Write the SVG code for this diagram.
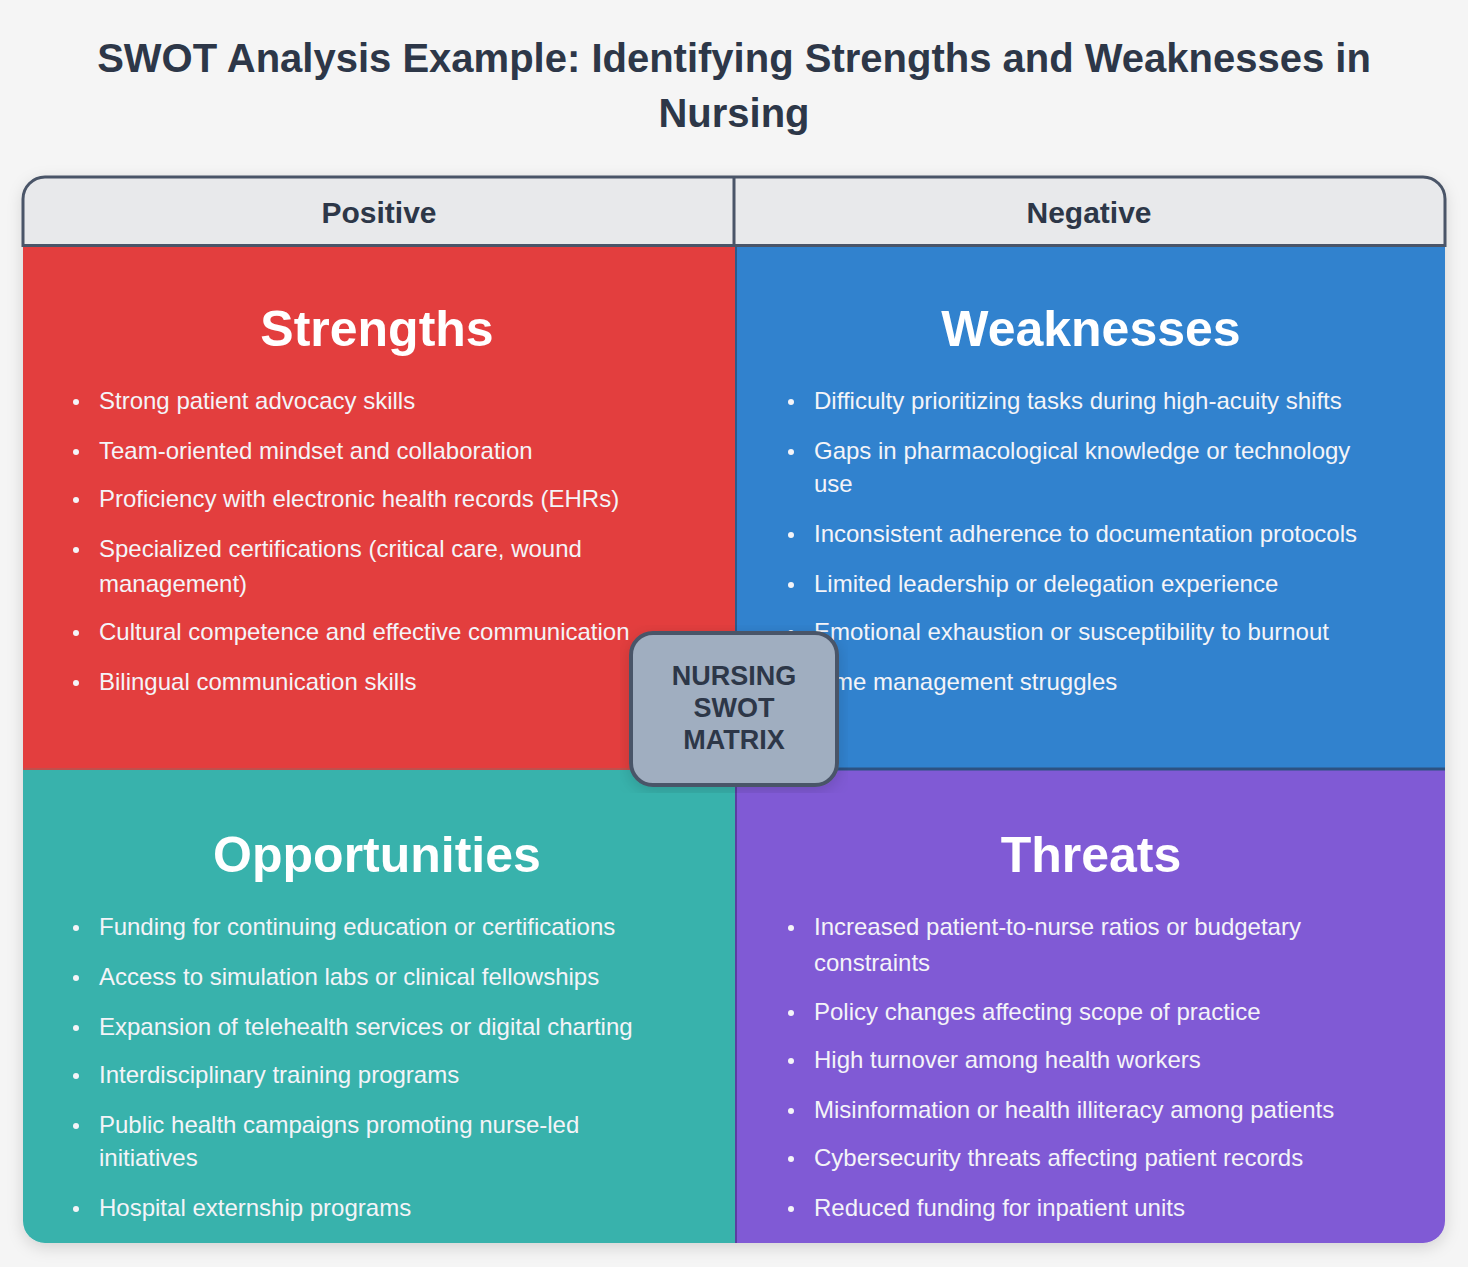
<svg xmlns="http://www.w3.org/2000/svg" width="1468" height="1267" viewBox="0 0 1468 1267">
<style>
text{font-family:"Liberation Sans",Arial,sans-serif}
.title{font-size:40px;font-weight:bold;fill:#2d3748;text-anchor:middle}
.hdr{font-size:30px;font-weight:bold;fill:#2d3748;text-anchor:middle}
.qt{font-size:50px;font-weight:bold;fill:#fff;text-anchor:middle}
.it{font-size:24px;fill:#f4f4f8}
.dot{fill:#f4f4f8}
.ctr{font-size:27px;font-weight:bold;fill:#2d3748;text-anchor:middle}
</style>
<defs>
<clipPath id="cl"><rect x="23" y="177" width="1422" height="1066" rx="22"/></clipPath>
<filter id="sh" x="-5%" y="-5%" width="110%" height="110%"><feDropShadow dx="0" dy="4" stdDeviation="8" flood-color="#000" flood-opacity="0.15"/></filter>
</defs>
<rect width="1468" height="1267" fill="#f5f5f5"/>
<text class="title" x="734" y="72">SWOT Analysis Example: Identifying Strengths and Weaknesses in</text>
<text class="title" x="734" y="127">Nursing</text>
<rect x="23" y="177" width="1422" height="1066" rx="22" fill="#e8e9eb" filter="url(#sh)"/>
<g clip-path="url(#cl)">
<g id="header">
<rect x="23" y="177" width="1422" height="70" fill="#e8e9eb"/>
<line x1="734" y1="177" x2="734" y2="247" stroke="#4a5568" stroke-width="3"/>
<line x1="23" y1="245.5" x2="1445" y2="245.5" stroke="#4a5568" stroke-width="3"/>
<text class="hdr" x="379" y="223">Positive</text>
<text class="hdr" x="1089" y="223">Negative</text>
</g>
<g id="strengths">
<rect x="23" y="247" width="712" height="523" fill="#e33e3e"/>
<text class="qt" x="377" y="346">Strengths</text>
<g class="it">
<circle class="dot" cx="76" cy="402" r="3"/><text class="it" x="99" y="409">Strong patient advocacy skills</text>
<circle class="dot" cx="76" cy="452" r="3"/><text class="it" x="99" y="459">Team-oriented mindset and collaboration</text>
<circle class="dot" cx="76" cy="500" r="3"/><text class="it" x="99" y="507">Proficiency with electronic health records (EHRs)</text>
<circle class="dot" cx="76" cy="550" r="3"/><text class="it" x="99" y="557">Specialized certifications (critical care, wound</text>
<text class="it" x="99" y="592">management)</text>
<circle class="dot" cx="76" cy="633" r="3"/><text class="it" x="99" y="640">Cultural competence and effective communication</text>
<circle class="dot" cx="76" cy="683" r="3"/><text class="it" x="99" y="690">Bilingual communication skills</text>
</g>
</g>
<g id="weaknesses">
<rect x="735" y="247" width="710" height="523" fill="#3182ce"/>
<line x1="736" y1="247" x2="736" y2="770" stroke="#2c5a8a" stroke-width="2"/>
<text class="qt" x="1091" y="346">Weaknesses</text>
<circle class="dot" cx="791" cy="402" r="3"/><text class="it" x="814" y="409">Difficulty prioritizing tasks during high-acuity shifts</text>
<circle class="dot" cx="791" cy="452" r="3"/><text class="it" x="814" y="459">Gaps in pharmacological knowledge or technology</text>
<text class="it" x="814" y="492">use</text>
<circle class="dot" cx="791" cy="535" r="3"/><text class="it" x="814" y="542">Inconsistent adherence to documentation protocols</text>
<circle class="dot" cx="791" cy="585" r="3"/><text class="it" x="814" y="592">Limited leadership or delegation experience</text>
<circle class="dot" cx="791" cy="633" r="3"/><text class="it" x="814" y="640">Emotional exhaustion or susceptibility to burnout</text>
<circle class="dot" cx="791" cy="683" r="3"/><text class="it" x="814" y="690">Time management struggles</text>
</g>
<g id="opportunities">
<rect x="23" y="770" width="712" height="473" fill="#38b2ac"/>
<line x1="23" y1="769" x2="735" y2="769" stroke="#c0504d" stroke-width="2"/>
<text class="qt" x="377" y="872">Opportunities</text>
<circle class="dot" cx="76" cy="928" r="3"/><text class="it" x="99" y="935">Funding for continuing education or certifications</text>
<circle class="dot" cx="76" cy="978" r="3"/><text class="it" x="99" y="985">Access to simulation labs or clinical fellowships</text>
<circle class="dot" cx="76" cy="1028" r="3"/><text class="it" x="99" y="1035">Expansion of telehealth services or digital charting</text>
<circle class="dot" cx="76" cy="1076" r="3"/><text class="it" x="99" y="1083">Interdisciplinary training programs</text>
<circle class="dot" cx="76" cy="1126" r="3"/><text class="it" x="99" y="1133">Public health campaigns promoting nurse-led</text>
<text class="it" x="99" y="1166">initiatives</text>
<circle class="dot" cx="76" cy="1209" r="3"/><text class="it" x="99" y="1216">Hospital externship programs</text>
</g>
<g id="threats">
<rect x="735" y="770" width="710" height="473" fill="#805ad5"/>
<line x1="735" y1="769" x2="1445" y2="769" stroke="#2c5282" stroke-width="3"/>
<line x1="736" y1="770" x2="736" y2="1243" stroke="#5b3fa0" stroke-width="2"/>
<text class="qt" x="1091" y="872">Threats</text>
<circle class="dot" cx="791" cy="928" r="3"/><text class="it" x="814" y="935">Increased patient-to-nurse ratios or budgetary</text>
<text class="it" x="814" y="971">constraints</text>
<circle class="dot" cx="791" cy="1013" r="3"/><text class="it" x="814" y="1020">Policy changes affecting scope of practice</text>
<circle class="dot" cx="791" cy="1061" r="3"/><text class="it" x="814" y="1068">High turnover among health workers</text>
<circle class="dot" cx="791" cy="1111" r="3"/><text class="it" x="814" y="1118">Misinformation or health illiteracy among patients</text>
<circle class="dot" cx="791" cy="1159" r="3"/><text class="it" x="814" y="1166">Cybersecurity threats affecting patient records</text>
<circle class="dot" cx="791" cy="1209" r="3"/><text class="it" x="814" y="1216">Reduced funding for inpatient units</text>
</g>
</g>
<path d="M23,247 V199 A22,22 0 0 1 45,177 H1423 A22,22 0 0 1 1445,199 V247" fill="none" stroke="#4a5568" stroke-width="3"/>
<g id="center">
<rect x="631" y="633" width="206" height="152" rx="22" fill="#a0aec0" stroke="#4a5568" stroke-width="4" filter="url(#sh)"/>
<text class="ctr" x="734" y="685">NURSING</text>
<text class="ctr" x="734" y="717">SWOT</text>
<text class="ctr" x="734" y="749">MATRIX</text>
</g>
</svg>
